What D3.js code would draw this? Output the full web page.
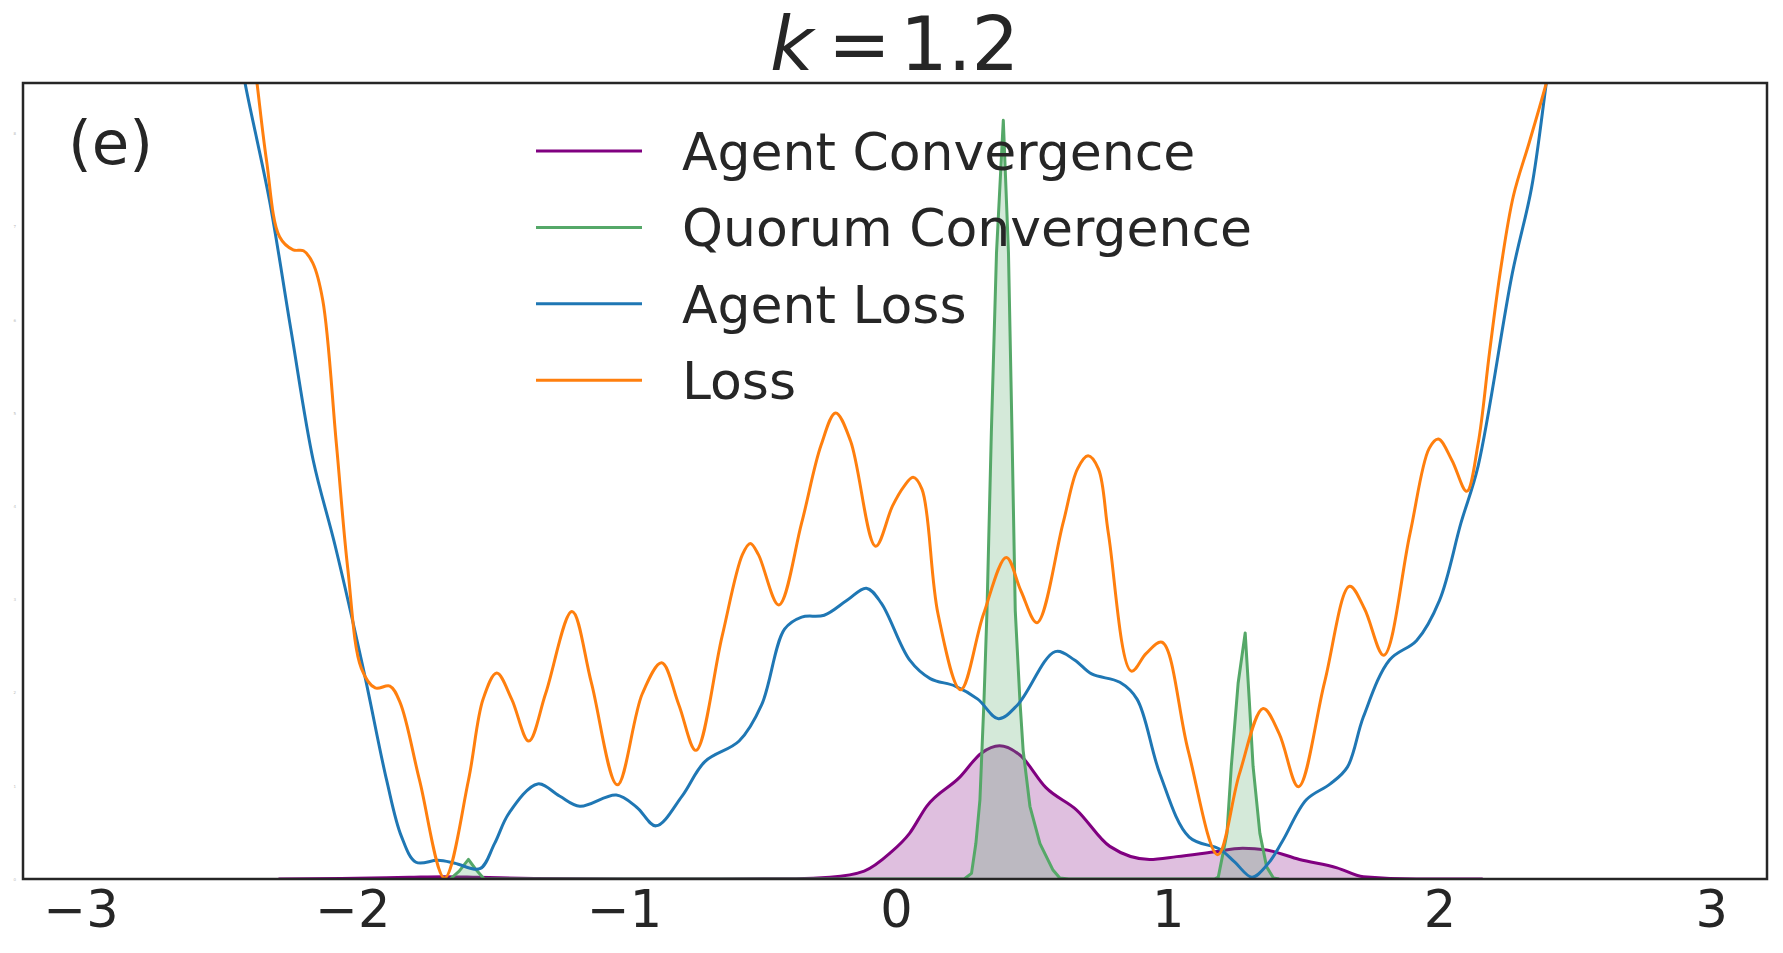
<!DOCTYPE html>
<html>
<head>
<meta charset="utf-8">
<script src="https://cdn.jsdelivr.net/npm/d3@7"></script>
<style>
  body { margin: 0; background: #fff; }
  svg { display: block; font-family: "DejaVu Sans", sans-serif; }
</style>
</head>
<body>
<svg id="chart"></svg>
<script>
// values (x in model units, y in density / loss units)
const lossX = [-2.368, -2.351, -2.316, -2.268, -2.218, -2.180, -2.146, -2.109, -2.059, -2.017, -1.967, -1.916, -1.862, -1.824,
  -1.753, -1.661, -1.573, -1.519, -1.469, -1.414, -1.351, -1.289, -1.192, -1.121, -1.025, -0.933, -0.862, -0.799, -0.736,
  -0.640, -0.565, -0.536, -0.506, -0.431, -0.347, -0.276, -0.222, -0.167, -0.075, -0.013, 0.029, 0.063, 0.096, 0.155, 0.238,
  0.322, 0.406, 0.460, 0.519, 0.615, 0.668, 0.707, 0.745, 0.782, 0.866, 0.921, 0.979, 1.075, 1.184, 1.264, 1.351, 1.410,
  1.481, 1.577, 1.669, 1.724, 1.795, 1.891, 1.962, 1.996, 2.046, 2.100, 2.142, 2.184, 2.226, 2.272, 2.331, 2.393, 2.427];
const lossY = [8.94, 8.54, 7.71, 6.89, 6.75, 6.74, 6.61, 6.21, 4.67, 3.33, 2.26, 2.05, 2.07, 1.89,
  1.06, 0.01, 1.06, 1.93, 2.21, 1.93, 1.48, 1.99, 2.87, 2.11, 1.01, 1.99, 2.32, 1.87, 1.38,
  2.60, 3.48, 3.60, 3.48, 2.94, 3.82, 4.65, 5.00, 4.70, 3.57, 4.00, 4.21, 4.31, 4.18, 2.84, 2.03,
  2.84, 3.45, 3.09, 2.75, 3.82, 4.40, 4.54, 4.40, 3.70, 2.23, 2.42, 2.54, 1.38, 0.26, 1.13, 1.83, 1.56,
  0.99, 2.11, 3.14, 2.90, 2.40, 3.70, 4.62, 4.72, 4.49, 4.16, 4.67, 5.65, 6.56, 7.33, 7.91, 8.54, 8.94];

const agentLossX = [-2.410, -2.395, -2.305, -2.226, -2.144, -2.063, -1.958, -1.874, -1.820, -1.766, -1.686, -1.623, -1.531,
  -1.477, -1.423, -1.318, -1.238, -1.163, -1.029, -0.954, -0.883, -0.787, -0.703, -0.577, -0.494, -0.410, -0.347, -0.264,
  -0.180, -0.109, -0.054, 0.050, 0.126, 0.218, 0.301, 0.377, 0.448, 0.586, 0.657, 0.720, 0.824, 0.887, 0.971, 1.079, 1.192,
  1.247, 1.310, 1.368, 1.423, 1.510, 1.598, 1.661, 1.720, 1.816, 1.916, 2.000, 2.079, 2.142, 2.268, 2.339, 2.393, 2.418];
const agentLossY = [8.82, 8.54, 7.28, 5.89, 4.49, 3.57, 2.23, 1.06, 0.46, 0.18, 0.20, 0.17, 0.11,
  0.38, 0.71, 1.02, 0.89, 0.78, 0.90, 0.77, 0.57, 0.89, 1.26, 1.48, 1.87, 2.68, 2.81, 2.83,
  2.99, 3.12, 2.96, 2.35, 2.15, 2.07, 1.93, 1.72, 1.87, 2.44, 2.35, 2.20, 2.11, 1.93, 1.13, 0.45, 0.32,
  0.18, 0.02, 0.16, 0.41, 0.85, 1.02, 1.20, 1.74, 2.35, 2.56, 2.99, 3.82, 4.43, 6.50, 7.42, 8.54, 9.06];

const agentConvX = [-2.272, -2.042, -1.791, -1.665, -1.540, -1.331, -0.996, -0.368, -0.243, -0.117, -0.021, 0.050, 0.113,
  0.234, 0.314, 0.381, 0.456, 0.552, 0.665, 0.787, 0.933, 1.033, 1.167, 1.276, 1.364, 1.485, 1.623, 1.720, 1.916, 2.159];
const agentConvY = [0, 0.006, 0.018, 0.024, 0.018, 0.006, 0, 0.002, 0.018, 0.085, 0.28, 0.49, 0.78,
  1.09, 1.35, 1.43, 1.33, 0.98, 0.74, 0.35, 0.21, 0.24, 0.29, 0.33, 0.31, 0.21, 0.12, 0.024, 0, 0];

const quorumX = [-1.640, -1.607, -1.573, -1.548, -1.515,
  0.251, 0.278, 0.294, 0.309, 0.324, 0.335, 0.351, 0.370, 0.395, 0.414, 0.427, 0.439, 0.456, 0.468, 0.493, 0.530, 0.577, 0.603, 0.636,
  1.172, 1.186, 1.218, 1.234, 1.259, 1.285, 1.300, 1.314, 1.339, 1.364, 1.389, 1.410];
const quorumY = [0, 0.085, 0.21, 0.11, 0,
  0, 0.06, 0.38, 0.85, 1.92, 2.88, 4.79, 6.72, 8.14, 6.72, 4.79, 2.88, 1.92, 1.38, 0.78, 0.38, 0.10, 0.01, 0,
  0, 0.02, 0.49, 1.21, 2.10, 2.64, 1.92, 1.21, 0.49, 0.13, 0.01, 0];

const xTicks = [-3, -2, -1, 0, 1, 2, 3];
const yTicks = [0, 1, 2, 3, 4, 5, 6, 7, 8];
const legendNames = ['Agent Convergence', 'Quorum Convergence', 'Agent Loss', 'Loss'];
const legendColors = ['#800080', '#55a868', '#1f77b4', '#ff7f0e'];

const totalW = 1783, totalH = 953;
const mg = { top: 83, right: 16, bottom: 74, left: 23 };
const W = totalW - mg.left - mg.right;
const H = totalH - mg.top - mg.bottom;

const svg = d3.select('#chart').attr('width', totalW).attr('height', totalH);

const x = d3.scaleLinear().domain([-3.212, 3.205]).range([mg.left, mg.left + W]);
const y = d3.scaleLinear().domain([0, 8.54]).range([mg.top + H, mg.top]);

svg.append('clipPath').attr('id', 'plotclip').append('rect')
  .attr('x', mg.left).attr('y', mg.top).attr('width', W).attr('height', H);

const zip = (xs, ys) => xs.map((v, i) => [v, ys[i]]);
const plot = svg.append('g').attr('clip-path', 'url(#plotclip)');
const smooth = d3.curveCatmullRom.alpha(0.5);

function kde(pts, color, curve) {
  const area = d3.area().x((d) => x(d[0])).y0(y(0)).y1((d) => y(d[1])).curve(curve);
  const line = d3.line().x((d) => x(d[0])).y((d) => y(d[1])).curve(curve);
  plot.append('path').attr('d', area(pts)).attr('fill', color).attr('fill-opacity', 0.25);
  plot.append('path').attr('d', line(pts)).attr('fill', 'none').attr('stroke', color)
    .attr('stroke-width', 3).attr('stroke-linejoin', 'round');
}
function curveLine(pts, color) {
  const line = d3.line().x((d) => x(d[0])).y((d) => y(d[1])).curve(smooth);
  plot.append('path').attr('d', line(pts)).attr('fill', 'none').attr('stroke', color)
    .attr('stroke-width', 3).attr('stroke-linejoin', 'round');
}

kde(zip(agentConvX, agentConvY), legendColors[0], d3.curveMonotoneX);
kde(zip(quorumX, quorumY), legendColors[1], d3.curveLinear);
curveLine(zip(agentLossX, agentLossY), legendColors[2]);
curveLine(zip(lossX, lossY), legendColors[3]);

// axes
const xAxis = svg.append('g').attr('transform', `translate(0,${mg.top + H})`)
  .call(d3.axisBottom(x).tickValues(xTicks).tickSize(0).tickPadding(12)
    .tickFormat((d) => (d < 0 ? '\u2212' + Math.abs(d) : String(d))));
xAxis.select('.domain').remove();
xAxis.selectAll('text').attr('font-size', 51).attr('fill', '#262626')
  .attr('font-family', '"DejaVu Sans", sans-serif');

const yAxis = svg.append('g').attr('transform', `translate(${mg.left},0)`)
  .call(d3.axisLeft(y).tickValues(yTicks).tickSize(0).tickPadding(7));
yAxis.select('.domain').remove();
yAxis.selectAll('text').attr('font-size', 4).attr('fill', '#bbbbbb')
  .attr('font-family', '"DejaVu Sans", sans-serif');

svg.append('rect').attr('x', mg.left).attr('y', mg.top).attr('width', W).attr('height', H)
  .attr('fill', 'none').attr('stroke', '#262626').attr('stroke-width', 2.5);

// title
const title = svg.append('text').attr('y', 70).attr('font-size', 75).attr('fill', '#262626');
title.append('tspan').attr('x', 770).attr('font-style', 'italic').text('k');
title.append('tspan').attr('x', 828).text('=');
title.append('tspan').attr('x', 900).text('1.2');

// panel label
svg.append('text').attr('x', 68).attr('y', 164).attr('font-size', 61).attr('fill', '#262626').text('(e)');

// legend
const leg = svg.append('g').selectAll('g').data(legendNames).enter().append('g')
  .attr('transform', (d, i) => `translate(536,${151 + i * 76.4})`);
leg.append('line').attr('x1', 0).attr('x2', 106).attr('y1', 0).attr('y2', 0)
  .attr('stroke', (d, i) => legendColors[i]).attr('stroke-width', 3);
leg.append('text').attr('x', 146).attr('y', 19).attr('font-size', 52).attr('fill', '#262626').text((d) => d);
</script>
</body>
</html>
